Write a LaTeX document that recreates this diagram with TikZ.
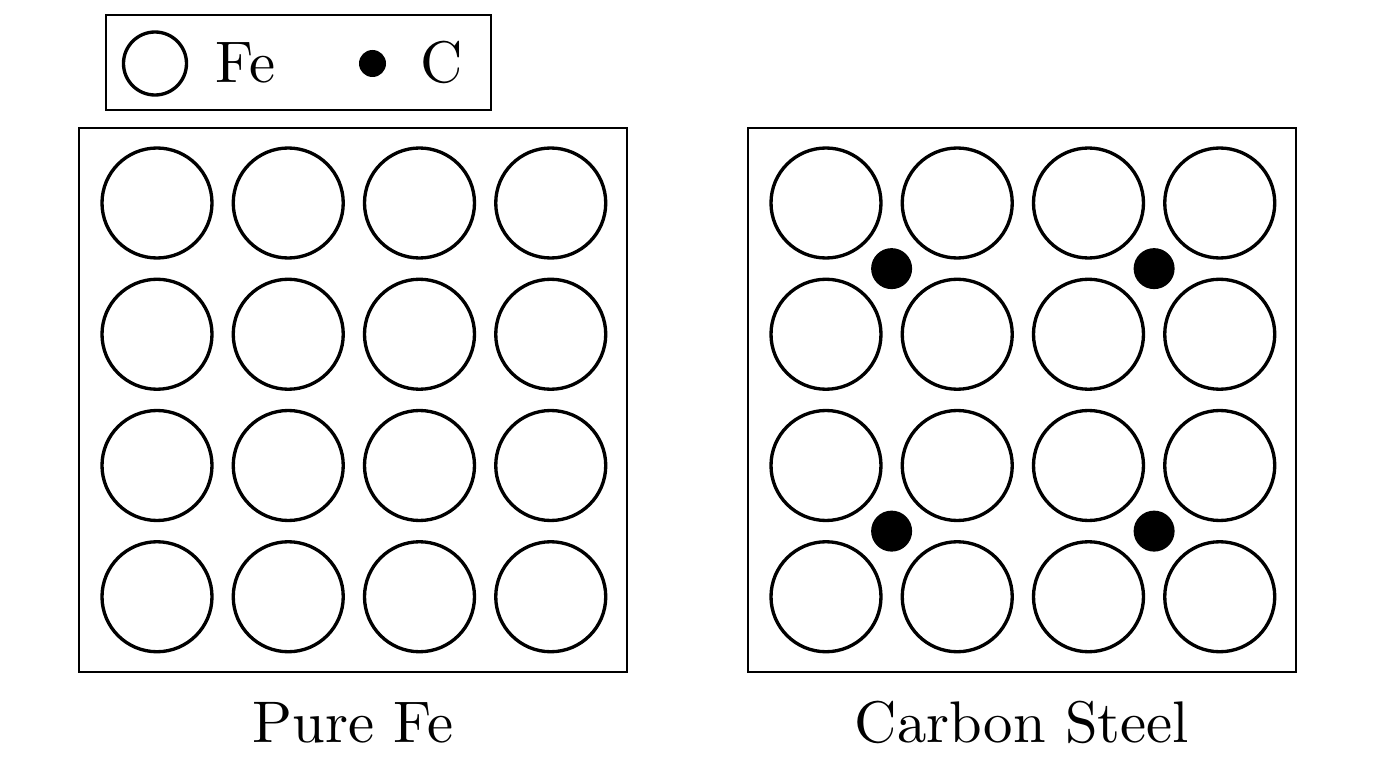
\documentclass[tikz,border=0pt]{standalone}
\usepackage{tikz}
\usetikzlibrary{calc,positioning}
\newcommand{\bigtext}[1]{\scalebox{1.67}{#1}}

\begin{document}
\begin{tikzpicture}
[	fe/.style={circle, draw, line width=0.95pt, minimum size=1.1cm, inner sep=0pt, outer sep=0pt},
	carbon/.style={circle, fill=black, minimum size=0.41cm, inner sep=0pt},
	legendfe/.style={circle, draw, line width=0.95pt, minimum size=0.63cm, inner sep=0pt},
	legendc/.style={circle, fill=black, minimum size=0.27cm, inner sep=0pt},
	frame/.style={draw, line width=0.65pt},
	caption/.style={font=\fontsize{10}{12}\selectfont, inner sep=0pt, anchor=base},
	node distance=0.2125cm
]
\useasboundingbox (0,0) rectangle (13.76,-7.68);

% legend
\draw[frame] (1.06,-0.15) rectangle (4.91,-1.10);
\node(legfe)[legendfe] at (1.55,-0.635){};
\node(legfetext)[caption, anchor=base west] at (2.15,-0.82){\bigtext{Fe}};
\node(legc)[legendc] at (3.725,-0.635){};
\node(legctext)[caption, anchor=base west] at (4.20,-0.82){\bigtext{C}};

% pure iron
\draw[frame] (0.79,-1.28) rectangle (6.27,-6.72);
\node(pure11)[fe] at (1.57,-2.03){};
\node(pure12)[fe, right=of pure11]{};
\node(pure13)[fe, right=of pure12]{};
\node(pure14)[fe, right=of pure13]{};
\node(pure21)[fe, below=of pure11]{};
\node(pure22)[fe, right=of pure21]{};
\node(pure23)[fe, right=of pure22]{};
\node(pure24)[fe, right=of pure23]{};
\node(pure31)[fe, below=of pure21]{};
\node(pure32)[fe, right=of pure31]{};
\node(pure33)[fe, right=of pure32]{};
\node(pure34)[fe, right=of pure33]{};
\node(pure41)[fe, below=of pure31]{};
\node(pure42)[fe, right=of pure41]{};
\node(pure43)[fe, right=of pure42]{};
\node(pure44)[fe, right=of pure43]{};
\node(purecaption)[caption] at (3.53,-7.42){\bigtext{Pure Fe}};

% carbon steel
\draw[frame] (7.48,-1.28) rectangle (12.96,-6.72);
\node(steel11)[fe] at (8.26,-2.03){};
\node(steel12)[fe, right=of steel11]{};
\node(steel13)[fe, right=of steel12]{};
\node(steel14)[fe, right=of steel13]{};
\node(steel21)[fe, below=of steel11]{};
\node(steel22)[fe, right=of steel21]{};
\node(steel23)[fe, right=of steel22]{};
\node(steel24)[fe, right=of steel23]{};
\node(steel31)[fe, below=of steel21]{};
\node(steel32)[fe, right=of steel31]{};
\node(steel33)[fe, right=of steel32]{};
\node(steel34)[fe, right=of steel33]{};
\node(steel41)[fe, below=of steel31]{};
\node(steel42)[fe, right=of steel41]{};
\node(steel43)[fe, right=of steel42]{};
\node(steel44)[fe, right=of steel43]{};

% interstitial carbon
\node(c1)[carbon] at ($(steel11)!0.5!(steel22)$){};
\node(c2)[carbon] at ($(steel13)!0.5!(steel24)$){};
\node(c3)[carbon] at ($(steel31)!0.5!(steel42)$){};
\node(c4)[carbon] at ($(steel33)!0.5!(steel44)$){};
\node(steelcaption)[caption] at (10.22,-7.42){\bigtext{Carbon Steel}};

\end{tikzpicture}
\end{document}
